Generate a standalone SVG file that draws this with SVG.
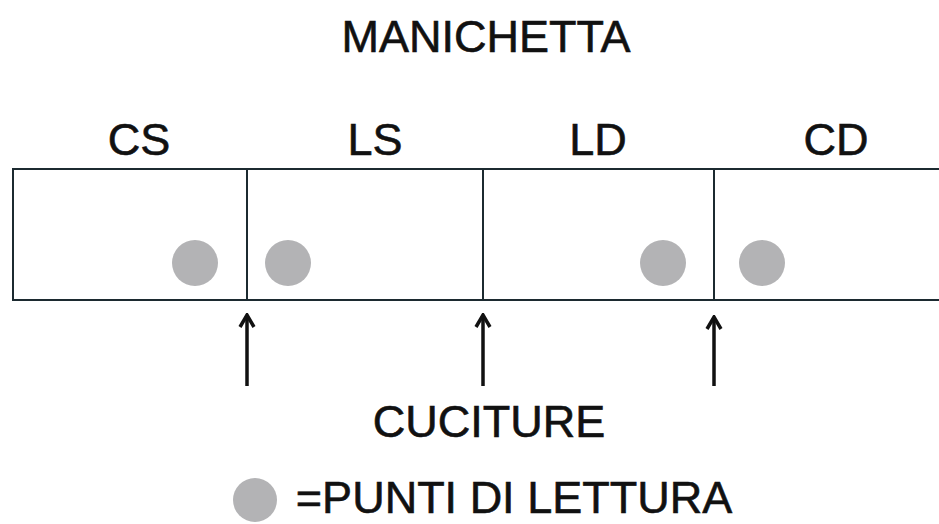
<svg xmlns="http://www.w3.org/2000/svg" width="939" height="524" viewBox="0 0 939 524">
<defs>
<style>
.t{font-family:"Liberation Sans",Arial,sans-serif;font-size:45px;fill:#111;stroke:#111;stroke-width:0.6;text-anchor:middle}
.ln{stroke:#1c2a30;stroke-width:2;fill:none}
.dot{fill:#b3b3b5}
.ar{stroke:#111;stroke-width:3.5;fill:none}
</style>
<marker id="ah" viewBox="0 0 16 18" refX="14" refY="9" markerWidth="16" markerHeight="18" markerUnits="userSpaceOnUse" orient="auto">
<path d="M2,2 L14,9 L2,16" stroke="#111" stroke-width="3.5" fill="none" stroke-linejoin="miter"/>
</marker>
</defs>
<rect width="939" height="524" fill="#fff"/>
<text class="t" x="486" y="52">MANICHETTA</text>
<g id="strip">
<rect class="ln" x="13" y="169" width="930" height="131"/>
</g>
<g id="CS">
<text class="t" x="139" y="155">CS</text>
<circle class="dot" cx="195" cy="263" r="23"/>
</g>
<g id="LS">
<line class="ln" x1="247" y1="169" x2="247" y2="300"/>
<text class="t" x="375" y="155">LS</text>
<circle class="dot" cx="288" cy="263" r="23"/>
</g>
<g id="LD">
<line class="ln" x1="483" y1="169" x2="483" y2="300"/>
<text class="t" x="598" y="155">LD</text>
<circle class="dot" cx="663" cy="263" r="23"/>
</g>
<g id="CD">
<line class="ln" x1="714" y1="169" x2="714" y2="300"/>
<text class="t" x="836" y="155">CD</text>
<circle class="dot" cx="762" cy="263" r="23"/>
</g>
<g id="connectors">
<line class="ar" x1="247" y1="386" x2="247" y2="315" marker-end="url(#ah)"/>
<line class="ar" x1="483" y1="386" x2="483" y2="315" marker-end="url(#ah)"/>
<line class="ar" x1="714" y1="386" x2="714" y2="317" marker-end="url(#ah)"/>
</g>
<g id="cuciture">
<text class="t" x="489" y="437">CUCITURE</text>
</g>
<g id="legend">
<circle class="dot" cx="255" cy="500" r="22"/>
<text class="t" x="514" y="513">=PUNTI DI LETTURA</text>
</g>
</svg>
